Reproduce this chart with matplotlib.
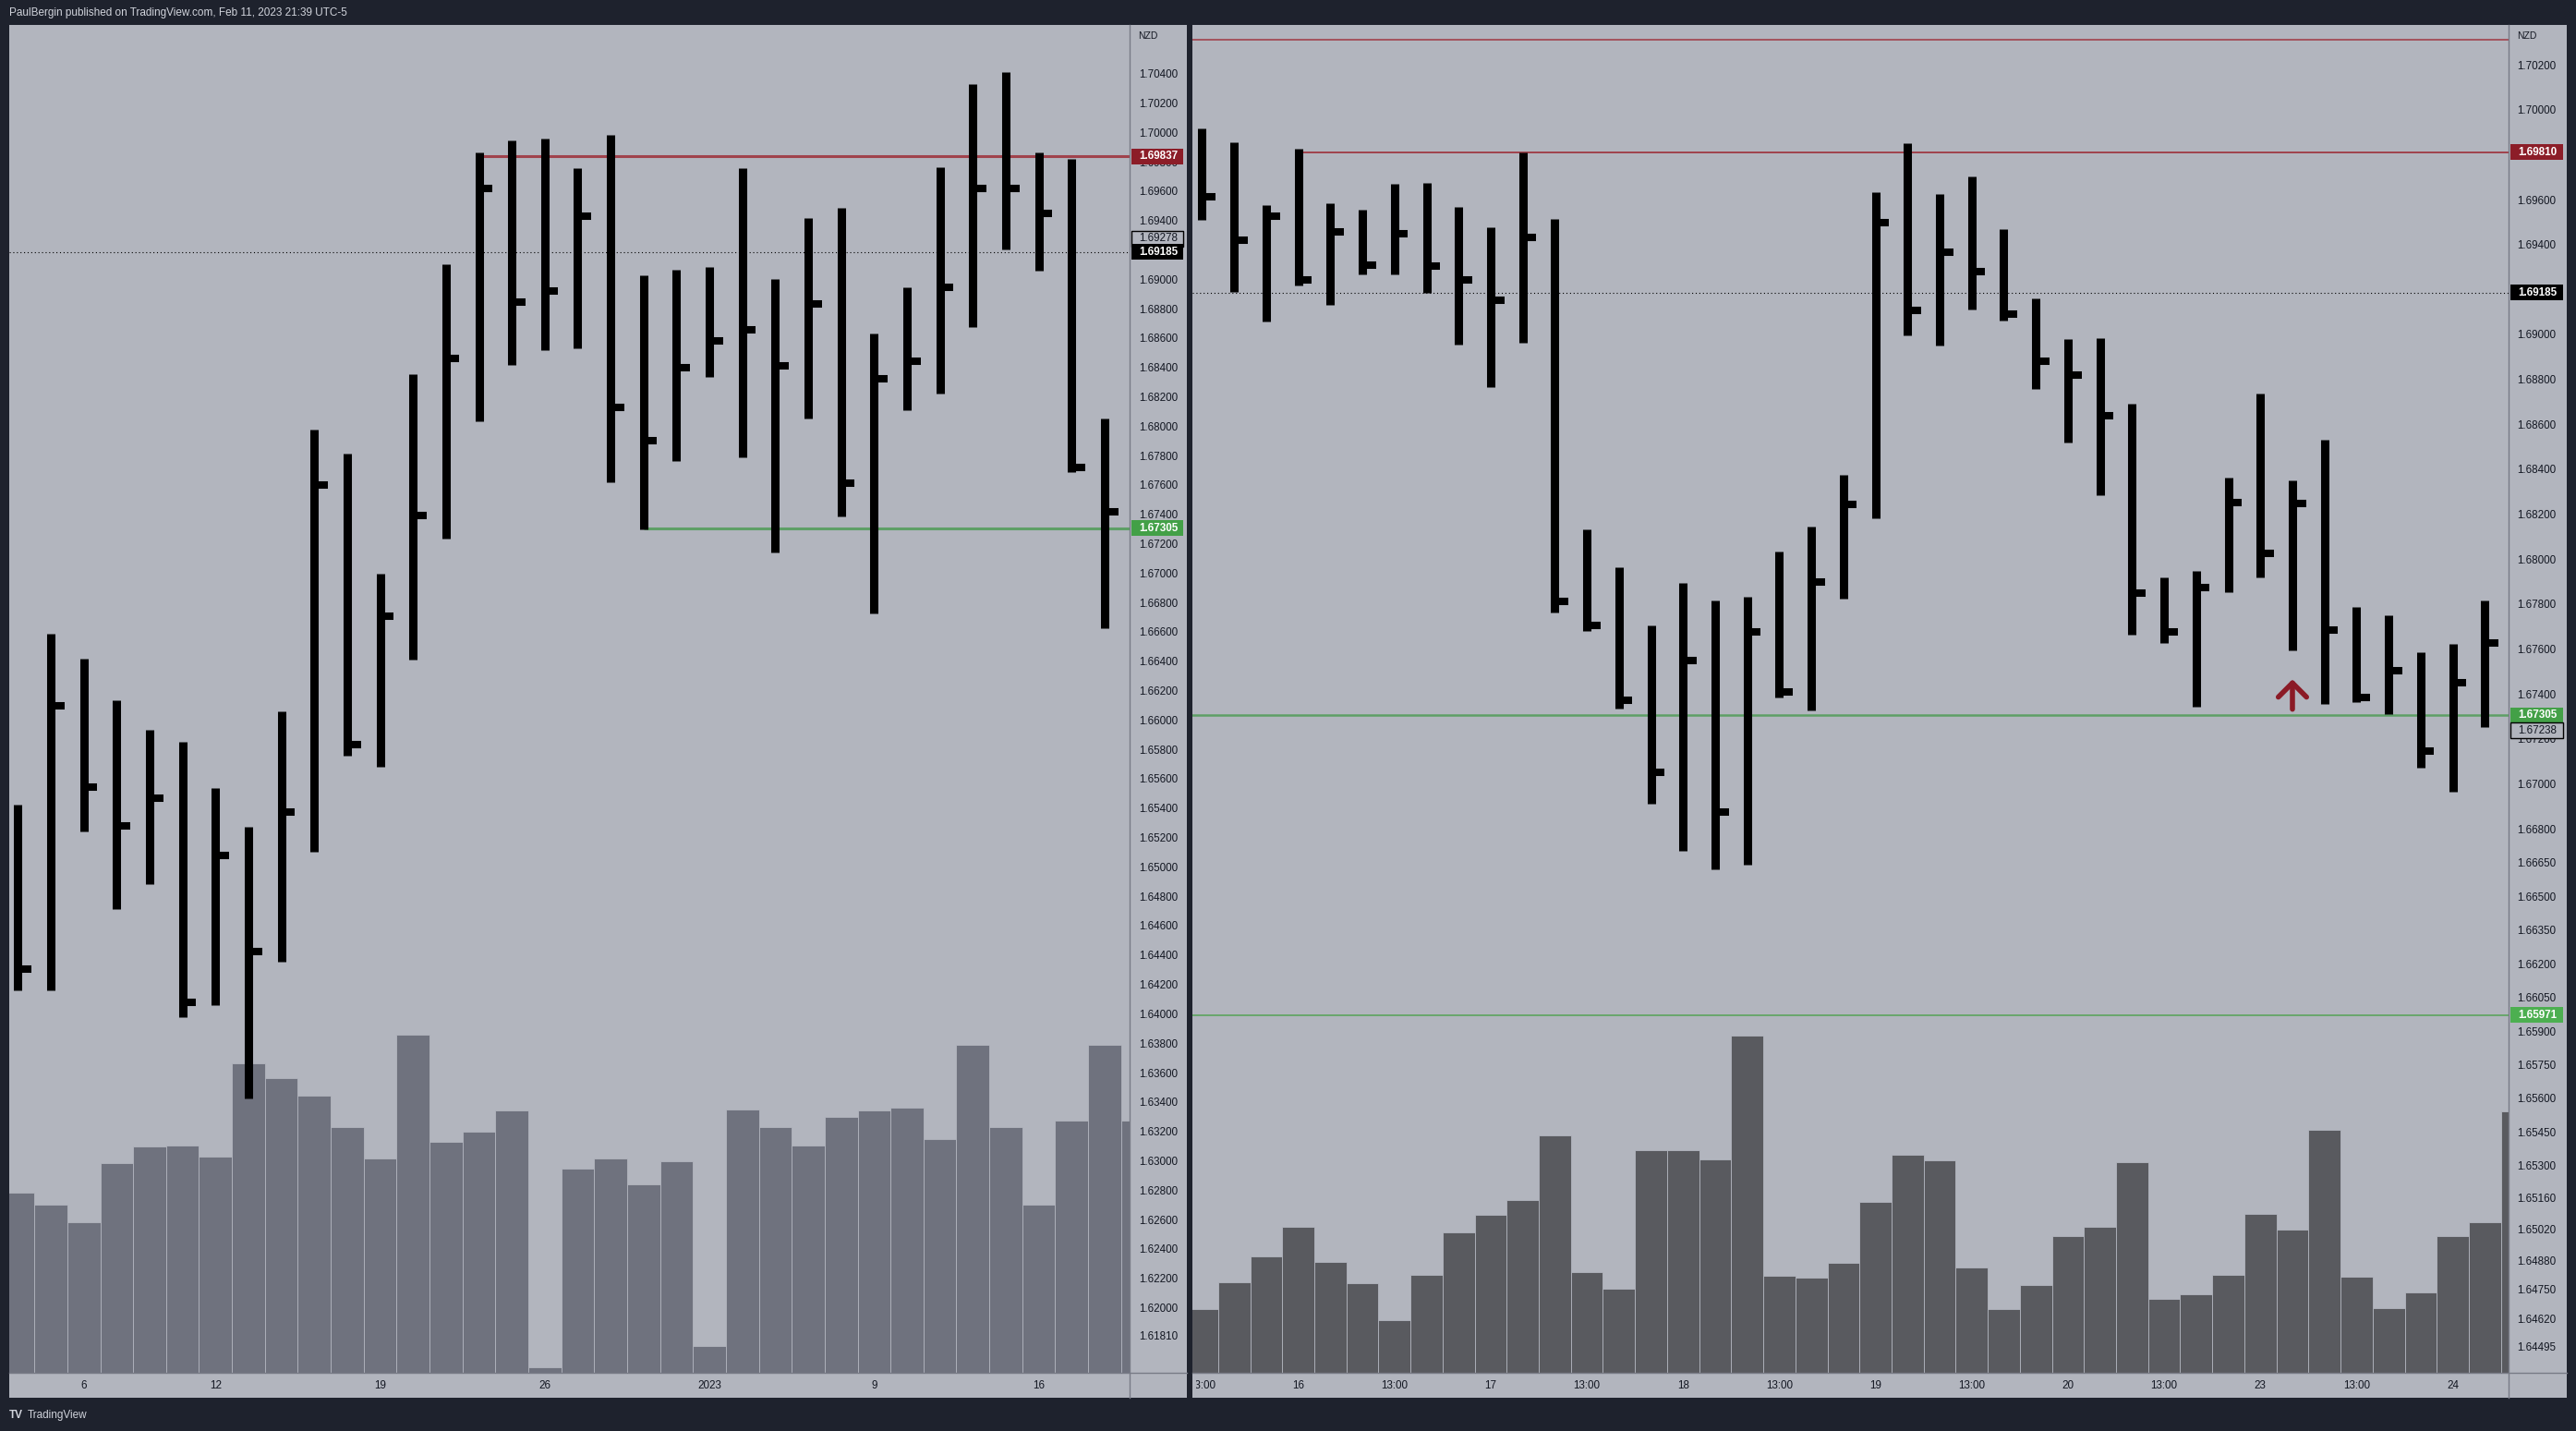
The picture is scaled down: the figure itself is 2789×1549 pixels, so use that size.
import matplotlib.pyplot as plt
from matplotlib.patches import Rectangle
from matplotlib.lines import Line2D
from matplotlib.transforms import Bbox, TransformedBbox, blended_transform_factory

plt.rcParams['font.family'] = ['Liberation Sans', 'DejaVu Sans']

W, H = 2789, 1549
DARK = '#1E222D'
PANEL = '#B2B5BE'
AXLINE = '#787B86'
TXT = '#131722'
RED_TAG = '#8C1D28'
GREEN_TAG = '#43A047'

# ---- left pane: NZD daily HLC bars ----
left_high = [1.65423, 1.66586, 1.66420, 1.66133, 1.65935, 1.65852, 1.65538, 1.65270, 1.66060, 1.67979,
             1.67813, 1.66996, 1.68357, 1.69104, 1.69865, 1.69948, 1.69957, 1.69759, 1.69985, 1.69025,
             1.69067, 1.69086, 1.69759, 1.69003, 1.69418, 1.69487, 1.68629, 1.68947, 1.69764, 1.70331,
             1.70409, 1.69865, 1.69819, 1.68052]
left_low = [1.64159, 1.64159, 1.65243, 1.64713, 1.64883, 1.63975, 1.64058, 1.63421, 1.64357, 1.65105,
            1.65760, 1.65681, 1.66410, 1.67236, 1.68034, 1.68416, 1.68518, 1.68532, 1.67619, 1.67296,
            1.67766, 1.68338, 1.67789, 1.67139, 1.68052, 1.67384, 1.66724, 1.68112, 1.68223, 1.68675,
            1.69201, 1.69058, 1.67688, 1.66622]
left_close = [1.64307, 1.66096, 1.65543, 1.65281, 1.65465, 1.64080, 1.65077, 1.64426, 1.65372, 1.67600,
              1.65833, 1.66710, 1.67392, 1.68463, 1.69621, 1.68845, 1.68920, 1.69432, 1.68131, 1.67904,
              1.68398, 1.68582, 1.68657, 1.68412, 1.68832, 1.67610, 1.68325, 1.68440, 1.68947, 1.69616,
              1.69616, 1.69450, 1.67720, 1.67420]
left_volume = [19500, 18200, 16300, 22700, 24500, 24600, 23400, 33500, 31900, 30000,
               26600, 23200, 36600, 25000, 26100, 28400, 600, 22100, 23200, 20400,
               22900, 2900, 28500, 26600, 24600, 27700, 28400, 28700, 25300, 35500,
               26600, 18200, 27300, 35500, 27300]
left_time_pos = [2, 6, 11, 16, 21, 26, 31]
left_time_labels = ['6', '12', '19', '26', '2023', '9', '16']
left_ticks = [1.704, 1.702, 1.700, 1.698, 1.696, 1.694, 1.692, 1.690, 1.688, 1.686, 1.684, 1.682,
              1.680, 1.678, 1.676, 1.674, 1.672, 1.670, 1.668, 1.666, 1.664, 1.662, 1.660, 1.658,
              1.656, 1.654, 1.652, 1.650, 1.648, 1.646, 1.644, 1.642, 1.640, 1.638, 1.636, 1.634,
              1.632, 1.630, 1.628, 1.626, 1.624, 1.622, 1.620, 1.6181]

# ---- right pane: NZD 4h HLC bars ----
right_high = [1.69917, 1.69855, 1.69576, 1.69826, 1.69585, 1.69556, 1.69670, 1.69674, 1.69567, 1.69478,
              1.69810, 1.69514, 1.68132, 1.67965, 1.67704, 1.67893, 1.67815, 1.67831, 1.68034, 1.68145,
              1.68375, 1.69634, 1.69850, 1.69625, 1.69703, 1.69469, 1.69161, 1.68979, 1.68983, 1.68691,
              1.67918, 1.67947, 1.68364, 1.68738, 1.68350, 1.68531, 1.67786, 1.67751, 1.67586, 1.67624,
              1.67815]
right_low = [1.69511, 1.69190, 1.69059, 1.69217, 1.69130, 1.69268, 1.69266, 1.69184, 1.68956, 1.68765,
             1.68961, 1.67764, 1.67682, 1.67336, 1.66913, 1.66701, 1.66619, 1.66639, 1.67383, 1.67325,
             1.67826, 1.68183, 1.68994, 1.68952, 1.69112, 1.69063, 1.68756, 1.68517, 1.68283, 1.67662,
             1.67626, 1.67345, 1.67851, 1.67920, 1.67592, 1.67354, 1.67365, 1.67309, 1.67071, 1.66964,
             1.67251]
right_close = [1.69612, 1.69420, 1.69525, 1.69242, 1.69456, 1.69309, 1.69447, 1.69306, 1.69242, 1.69150,
               1.69433, 1.67811, 1.67704, 1.67372, 1.67053, 1.67548, 1.66875, 1.67675, 1.67407, 1.67900,
               1.68243, 1.69498, 1.69106, 1.69367, 1.69280, 1.69090, 1.68881, 1.68818, 1.68638, 1.67849,
               1.67675, 1.67873, 1.68252, 1.68025, 1.68248, 1.67684, 1.67383, 1.67503, 1.67147, 1.67450,
               1.67626]
right_volume = [6900, 9800, 12600, 15800, 12000, 9700, 5700, 10600, 15200, 17100,
                18700, 25700, 10900, 9100, 24100, 24100, 23100, 36500, 10500, 10300,
                11900, 18500, 23600, 23000, 11400, 6900, 9500, 14800, 15800, 22800,
                8000, 8500, 10600, 17200, 15500, 26300, 10400, 7000, 8700, 14800,
                16300, 28300]
right_time_pos = [0, 3, 6, 9, 12, 15, 18, 21, 24, 27, 30, 33, 36, 39]
right_time_labels = ['13:00', '16', '13:00', '17', '13:00', '18', '13:00', '19', '13:00', '20',
                     '13:00', '23', '13:00', '24']
right_ticks = [1.702, 1.700, 1.698, 1.696, 1.694, 1.692, 1.690, 1.688, 1.686, 1.684, 1.682, 1.680,
               1.678, 1.676, 1.674, 1.672, 1.670, 1.668, 1.6665, 1.665, 1.6635, 1.662, 1.6605,
               1.659, 1.6575, 1.656, 1.6545, 1.653, 1.6516, 1.6502, 1.6488, 1.6475, 1.6462, 1.64495]

fig = plt.figure(figsize=(W / 100, H / 100), dpi=100, facecolor=DARK)

TOP, BOT, TIME_BOT = 27, 1486, 1513
VOL_TOP = 145900


def frac(x0, y0, x1, y1):
    return [x0 / W, 1 - y1 / H, (x1 - x0) / W, (y1 - y0) / H]


def pane(x0, x1, strip_end, xlim, ylim, highs, lows, closes, vols, vol_color,
         ticks, tpos, tlabels, tick_len, pad):
    fig.add_artist(Rectangle((x0 / W, 1 - TIME_BOT / H), (strip_end - x0) / W, (TIME_BOT - TOP) / H,
                             transform=fig.transFigure, fc=PANEL, ec='none', zorder=-5))
    axv = fig.add_axes(frac(x0, TOP, x1, BOT))
    axv.bar(range(len(vols)), vols, width=1.0, color=vol_color, edgecolor=PANEL, linewidth=0.6)
    axv.set_xlim(xlim)
    axv.set_ylim(0, VOL_TOP)
    axv.axis('off')

    ax = fig.add_axes(frac(x0, TOP, x1, BOT), facecolor='none')
    xs = list(range(len(highs)))
    ax.vlines(xs, lows, highs, color='black', lw=6.5, zorder=3)
    ax.hlines(closes, xs, [x + tick_len for x in xs], color='black', lw=5.8, zorder=3)
    ax.set_xlim(xlim)
    ax.set_ylim(ylim)
    for s in ax.spines.values():
        s.set_visible(False)
    ax.yaxis.tick_right()
    ax.set_yticks(ticks)
    ax.set_yticklabels([f'{t:.5f}' for t in ticks])
    ax.tick_params(axis='y', length=0, pad=pad, labelsize=8.4, labelcolor=TXT)
    ax.set_xticks(tpos)
    ax.set_xticklabels(tlabels)
    ax.tick_params(axis='x', length=0, pad=6, labelsize=8.4, labelcolor=TXT)
    # time labels are cut at the left edge of the pane
    clip = TransformedBbox(Bbox([[4 / (x1 - x0), -1], [1, 0]]), ax.transAxes)
    for lbl in ax.get_xticklabels():
        lbl.set_clip_box(clip)
        lbl.set_clip_on(True)

    # separators of price / time scales
    fig.add_artist(Line2D([x1 / W, x1 / W], [1 - TOP / H, 1 - TIME_BOT / H], color=AXLINE, lw=1.0, zorder=3))
    fig.add_artist(Line2D([x0 / W, strip_end / W], [1 - BOT / H, 1 - BOT / H], color=AXLINE, lw=1.0, zorder=3))
    fig.text((x1 + 9) / W, 1 - 39 / H, 'NZD', fontsize=7.5, color=TXT, va='center')
    ax.axhline(1.69185, color='black', lw=0.8, ls=(0, (1, 2.5)), zorder=2)
    return ax


def tag(ax, x0, x1, strip_end, ylim, price, text, fc, tc='white', ec='none', bold=True):
    axw = x1 - x0
    h = 17 * (ylim[1] - ylim[0]) / (BOT - TOP)
    tr = blended_transform_factory(ax.transAxes, ax.transData)
    ax.add_patch(Rectangle((1 + 2 / axw, price - h / 2), (strip_end - x1 - 6) / axw, h, transform=tr,
                           fc=fc, ec=ec, lw=1.0, clip_on=False, zorder=6))
    ax.text(1 + 10 / axw, price, text, transform=tr, color=tc, fontsize=8.4,
            fontweight='bold' if bold else 'normal', va='center', ha='left', clip_on=False, zorder=7)


# left pane
LX0, LX1, LEND = 10, 1223, 1285
lxlim = (-0.264, 33.76)
lylim = (1.61556, 1.70732)
axl = pane(LX0, LX1, LEND, lxlim, lylim, left_high, left_low, left_close, left_volume, '#6F727E',
           left_ticks, left_time_pos, left_time_labels, 0.41, 7.2)
axl.hlines(1.69837, 14, lxlim[1], color='#A0424C', lw=2.2, zorder=2)
axl.hlines(1.67305, 19, lxlim[1], color='#5E9F66', lw=2.2, zorder=2)
tag(axl, LX0, LX1, LEND, lylim, 1.69837, '1.69837', RED_TAG)
tag(axl, LX0, LX1, LEND, lylim, 1.69278, '1.69278', PANEL, tc=TXT, ec='black', bold=False)
tag(axl, LX0, LX1, LEND, lylim, 1.69185, '1.69185', 'black')
tag(axl, LX0, LX1, LEND, lylim, 1.67305, '1.67305', GREEN_TAG)

# right pane
RX0, RX1, REND = 1291, 2716, 2779
rxlim = (-0.302, 40.74)
rylim = (1.64379, 1.70377)
axr = pane(RX0, RX1, REND, rxlim, rylim, right_high, right_low, right_close, right_volume, '#595A5F',
           right_ticks, right_time_pos, right_time_labels, 0.42, 6.5)
axr.axhline(1.7031, color='#A0424C', lw=1.2, zorder=2)
axr.hlines(1.69810, 3, rxlim[1], color='#A0424C', lw=1.4, zorder=2)
axr.axhline(1.67305, color='#5E9F66', lw=1.8, zorder=2)
axr.axhline(1.65971, color='#5CA35F', lw=1.2, zorder=2)
axr.annotate('', xy=(34, 1.67465), xytext=(34, 1.67332),
             arrowprops=dict(arrowstyle='->,head_length=0.55,head_width=0.55', color='#8B1A26',
                             lw=4, mutation_scale=20, shrinkA=0, shrinkB=0), zorder=4)
tag(axr, RX0, RX1, REND, rylim, 1.69810, '1.69810', RED_TAG)
tag(axr, RX0, RX1, REND, rylim, 1.69185, '1.69185', 'black')
tag(axr, RX0, RX1, REND, rylim, 1.67305, '1.67305', GREEN_TAG)
tag(axr, RX0, RX1, REND, rylim, 1.67238, '1.67238', PANEL, tc=TXT, ec='black', bold=False)
tag(axr, RX0, RX1, REND, rylim, 1.65971, '1.65971', '#4CAF50')

# header and footer
fig.text(10 / W, 1 - 14 / H, 'PaulBergin published on TradingView.com, Feb 11, 2023 21:39 UTC-5',
         color='#D1D4DC', fontsize=8.5, va='center')
fig.text(10 / W, 1 - 1532 / H, 'TV', color='#D1D4DC', fontsize=8.5, fontweight='bold', va='center')
fig.text(30 / W, 1 - 1532 / H, 'TradingView', color='#D1D4DC', fontsize=8.5, va='center')

fig.savefig('out.png', dpi=100, facecolor=DARK)
